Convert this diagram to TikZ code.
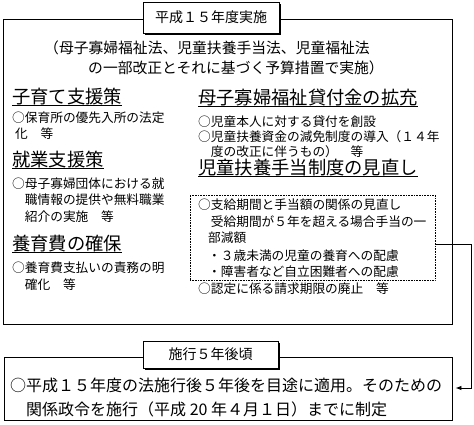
\documentclass[tikz,border=0pt]{standalone}
\usepackage{fontspec}
\newfontfamily\jp{Noto Sans CJK JP}
\usetikzlibrary{shadows,arrows.meta}
\begin{document}
\begin{tikzpicture}[x=1pt,y=-1pt,
  item/.style={anchor=west, inner sep=0pt, font=\jp\fontsize{12.7}{14}\selectfont},
  head/.style={anchor=west, inner sep=0pt, font=\jp\fontsize{18.3}{20}\selectfont},
  intro/.style={anchor=west, inner sep=0pt, font=\jp\fontsize{14.8}{16}\selectfont},
  note/.style={anchor=west, inner sep=0pt, font=\jp\fontsize{16}{18}\selectfont},
  frame/.style={draw, line width=0.9pt, inner sep=0pt},
  tag/.style={draw, fill=white, line width=0.9pt, inner sep=0pt,
    font=\jp\fontsize{14}{16}\selectfont,
    drop shadow={shadow xshift=1.8pt, shadow yshift=-1.8pt, opacity=1, fill=black}},
  ul/.style={line width=0.8pt},
  link/.style={line width=0.9pt},
]
\useasboundingbox (0,0) rectangle (474,424);

% top frame
\node[frame, minimum width=449pt, minimum height=305pt] (top) at (227.5,171.5) {};
\node[tag, minimum width=136pt, minimum height=31pt] (tag1) at (211,17.5) {平成１５年度実施};

\node[intro] (i1) at (44,48) {（母子寡婦福祉法、児童扶養手当法、児童福祉法};
\node[intro] (i2) at (88,68) {の一部改正とそれに基づく予算措置で実施）};

% left column
\node[head] (h1) at (12,97) {子育て支援策};
\draw[ul] (h1.south west) -- (h1.south east);
\node[item] (a1) at (12,118) {○保育所の優先入所の法定};
\node[item] (a2) at (15,134) {化　等};

\node[head] (h2) at (12,160) {就業支援策};
\draw[ul] (h2.south west) -- (h2.south east);
\node[item] (b1) at (12,184) {○母子寡婦団体における就};
\node[item] (b2) at (12,200) {　職情報の提供や無料職業};
\node[item] (b3) at (12,217) {　紹介の実施　等};

\node[head] (h3) at (12,244) {養育費の確保};
\draw[ul] (h3.south west) -- (h3.south east);
\node[item] (c1) at (12,268) {○養育費支払いの責務の明};
\node[item] (c2) at (12,285) {　確化　等};

% right column
\node[head] (h4) at (198,98) {母子寡婦福祉貸付金の拡充};
\draw[ul] (h4.south west) -- (h4.south east);
\node[item] (d1) at (198,122) {○児童本人に対する貸付を創設};
\node[item] (d2) at (198,137) {○児童扶養資金の減免制度の導入（１４年};
\node[item] (d3) at (198,152) {　度の改正に伴うもの）　等};

\node[head] (h5) at (198,168) {児童扶養手当制度の見直し};
\draw[ul] (h5.south west) -- (h5.south east);

\node[draw, densely dotted, line width=0.6pt, inner sep=0pt,
      minimum width=245pt, minimum height=85pt] (dot) at (312.5,237.5) {};
\node[item] (e1) at (198,205) {○支給期間と手当額の関係の見直し};
\node[item] (e2) at (198,222) {　受給期間が５年を超える場合手当の一};
\node[item] (e3) at (208,238) {部減額};
\node[item] (e4) at (208,256) {・３歳未満の児童の養育への配慮};
\node[item] (e5) at (208,272) {・障害者など自立困難者への配慮};
\node[item] (e6) at (198,289) {○認定に係る請求期限の廃止　等};

% bottom frame
\node[frame, minimum width=448pt, minimum height=63pt] (bot) at (228,388.5) {};
\node[tag, minimum width=135pt, minimum height=27pt] (tag2) at (210.5,354.5) {施行５年後頃};
\node[note] (n1) at (10,385) {○平成１５年度の法施行後５年後を目途に適用。そのための};
\node[note] (n2) at (10,409) {　関係政令を施行（平成 20 年４月１日）までに制定};

% connector
\coordinate (k1) at (471,244);
\coordinate (k2) at (471,388);
\draw[link, -{Latex[length=6pt,width=4.5pt]}, shorten >=3pt]
  (dot.east |- k1) -- (k1) -- (k2) -- (bot.east |- k2);
\end{tikzpicture}
\end{document}
